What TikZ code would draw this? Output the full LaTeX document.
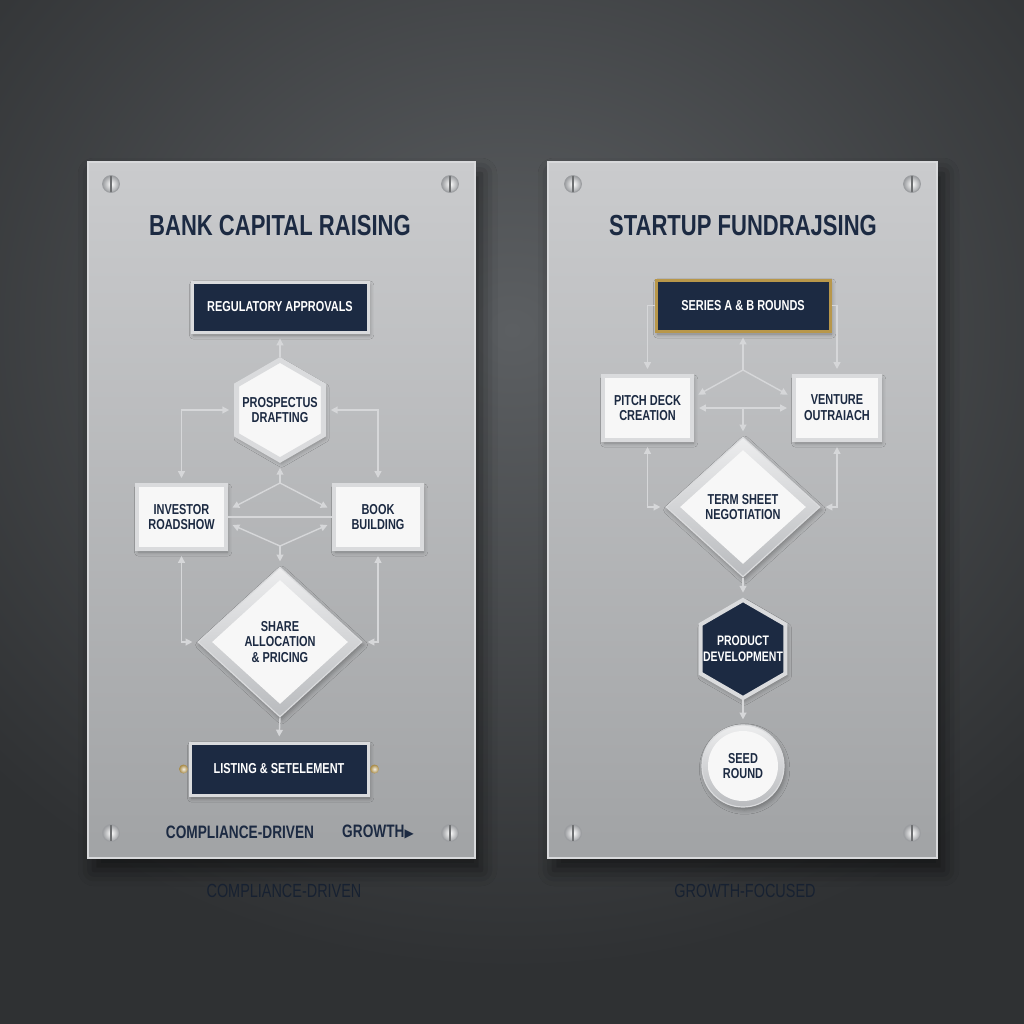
\documentclass[tikz,border=0pt]{standalone}
\usepackage{fontspec}
\setmainfont{Liberation Sans}[FakeStretch=0.76]
\newfontfamily\symfont{DejaVu Sans}
\usetikzlibrary{arrows.meta,shapes.geometric,shadows.blur}

\definecolor{navy}{HTML}{1C2A42}
\definecolor{capnavy}{HTML}{172131}
\definecolor{frame}{HTML}{DADBDD}
\definecolor{frameshade}{HTML}{B9BBBE}
\definecolor{wire}{HTML}{D6D7D9}
\definecolor{paper}{HTML}{F7F7F7}
\definecolor{gold}{HTML}{B8974A}
\definecolor{bglight}{HTML}{5C5F62}
\definecolor{bgdark}{HTML}{2F3133}
\definecolor{platetop}{HTML}{CACBCD}
\definecolor{platebot}{HTML}{A1A3A5}
\definecolor{plateedge}{HTML}{D8D9DB}
\definecolor{screwgray}{HTML}{9C9EA1}

\begin{document}
\begin{tikzpicture}
	[x=0.5pt,y=-0.5pt,>={Triangle[length=3.4pt,width=3.4pt]},
		wire/.style={draw=wire,line width=0.7pt,shorten >=2.5pt},
		box text/.style={font=\bfseries\fontsize{7.2}{7.9}\selectfont,align=center},
		navy node/.style={rectangle,fill=navy,draw=frame,line width=1.5pt,text=white,box text,inner sep=0pt,
			blur shadow={shadow xshift=0.8pt,shadow yshift=-1.5pt,shadow opacity=35}},
		white node/.style={rectangle,fill=paper,draw=frame,line width=2pt,text=navy,box text,inner sep=0pt,
			blur shadow={shadow xshift=0.8pt,shadow yshift=-1.5pt,shadow opacity=30}},
		hex node/.style={regular polygon,regular polygon sides=6,shape border rotate=30,minimum size=50pt,inner sep=0pt,
			blur shadow={shadow xshift=0.8pt,shadow yshift=-1.5pt,shadow opacity=30}},
		diam node/.style={diamond,inner sep=0pt},
		silver node/.style={top color=frame!50!white,bottom color=frameshade,draw=frame,line width=0.6pt,
			blur shadow={shadow xshift=0.8pt,shadow yshift=-1.5pt,shadow opacity=30}},
		screw node/.style={circle,minimum size=8.5pt,inner sep=0pt,draw=screwgray,line width=0.4pt,inner color=white,outer color=screwgray,
			path picture={\draw[screwgray!70!black,line width=0.7pt] (path picture bounding box.north) -- (path picture bounding box.south);}},
		gold dot/.style={circle,minimum size=4.5pt,inner sep=0pt,inner color=gold!15!white,outer color=gold!90!black},
		title node/.style={font=\bfseries\fontsize{14.5}{16}\selectfont,text=navy},
		foot node/.style={font=\bfseries\fontsize{9}{10}\selectfont,text=navy},
		caption node/.style={font=\fontsize{9.5}{10}\selectfont,text=capnavy}]

	% background and plates
	\useasboundingbox (0,0) rectangle (1024,1024);
	\fill[bgdark] (0,0) rectangle (1024,1024);
	\begin{scope}
		\clip (0,0) rectangle (1024,1024);
		\shade[inner color=bglight,outer color=bgdark] (512,330) ellipse [x radius=720,y radius=640];
	\end{scope}
	\shade[top color=platetop,bottom color=platebot,draw=plateedge,line width=1pt,
		blur shadow={shadow xshift=3pt,shadow yshift=-6pt,shadow blur radius=8pt,shadow opacity=55}] (88,162) rectangle (475,858);
	\shade[top color=platetop,bottom color=platebot,draw=plateedge,line width=1pt,
		blur shadow={shadow xshift=3pt,shadow yshift=-6pt,shadow blur radius=8pt,shadow opacity=55}] (548,162) rectangle (937,858);

	\node[screw node] (s1) at (111,184) {};
	\node[screw node] (s2) at (450,184) {};
	\node[screw node] (s3) at (111,833) {};
	\node[screw node] (s4) at (450,833) {};
	\node[screw node] (s5) at (573,184) {};
	\node[screw node] (s6) at (912,184) {};
	\node[screw node] (s7) at (573,833) {};
	\node[screw node] (s8) at (912,833) {};

	% bank side
	\node[title node] (banktitle) at (280,226) {BANK CAPITAL RAISING};
	\node[navy node,minimum width=88pt,minimum height=25pt] (regap) at (280,307) {REGULATORY APPROVALS};
	\node[hex node,fill=paper,draw=frame,line width=2.5pt,
		label={[box text,text=navy]center:PROSPECTUS\\DRAFTING}] (prosp) at (280,410) {};
	\node[white node,minimum width=44.5pt,minimum height=32pt] (roadshow) at (181.5,517) {INVESTOR\\ROADSHOW};
	\node[white node,minimum width=44pt,minimum height=32pt] (book) at (378,517) {BOOK\\BUILDING};
	\node[diam node,silver node,minimum width=82pt,minimum height=75pt] (share) at (280,642) {};
	\node[diam node,fill=paper,box text,text=navy,minimum width=68pt,minimum height=62pt] (sharein) at (280,642) {SHARE\\ALLOCATION\\\& PRICING};
	\node[navy node,minimum width=89pt,minimum height=26pt] (listing) at (279,769) {LISTING \& SETELEMENT};
	\node[gold dot] (goldl) at ([xshift=-2.5pt]listing.west) {};
	\node[gold dot] (goldr) at ([xshift=2.5pt]listing.east) {};
	\node[foot node] (compfoot) at (240,832) {COMPLIANCE-DRIVEN};
	\node[foot node] (growfoot) at (378,832) {GROWTH{\symfont\fontsize{6}{6}\selectfont ▶}};

	\coordinate (j1) at (280,483);
	\coordinate (j2) at (280,546);
	\draw[wire,->] (prosp.north) -- (regap.south);
	\draw[wire,<->,shorten <=2.5pt] (roadshow.north) |- (prosp.west);
	\draw[wire,<->,shorten <=2.5pt] (book.north) |- (prosp.east);
	\draw[wire,->] (j1) -- (prosp.south);
	\draw[wire,->] (j1) -- ([yshift=3.5pt]roadshow.east);
	\draw[wire,->] (j1) -- ([yshift=3.5pt]book.west);
	\draw[wire,shorten >=0pt] (roadshow.east) -- (book.west);
	\draw[wire,->] (j2) -- ([yshift=-3pt]roadshow.east);
	\draw[wire,->] (j2) -- ([yshift=-3pt]book.west);
	\draw[wire,->] (j2) -- (share.north);
	\draw[wire,<->,shorten <=2.5pt] (roadshow.south) |- (share.west);
	\draw[wire,<->,shorten <=2.5pt] (book.south) |- (share.east);
	\draw[wire,->] (share.south) -- (listing.north);

	% startup side
	\node[title node] (starttitle) at (743,226) {STARTUP FUNDRAJSING};
	\node[navy node,draw=gold,minimum width=87pt,minimum height=25.5pt] (series) at (743,305.5) {SERIES A \& B ROUNDS};
	\node[white node,minimum width=44.5pt,minimum height=32pt] (pitch) at (647.5,408) {PITCH DECK\\CREATION};
	\node[white node,minimum width=43pt,minimum height=32pt] (venture) at (837,408) {VENTURE\\OUTRAIACH};
	\node[diam node,silver node,minimum width=77pt,minimum height=70pt] (term) at (743,507) {};
	\node[diam node,fill=paper,box text,text=navy,minimum width=63pt,minimum height=57pt] (termin) at (743,507) {TERM SHEET\\NEGOTIATION};
	\node[hex node,fill=navy,draw=frame,line width=2pt,minimum size=49pt,
		label={[box text,font=\bfseries\fontsize{6.9}{7.9}\selectfont,text=white]center:PRODUCT\\DEVELOPMENT}] (prod) at (743,649) {};
	\node[circle,silver node,minimum size=41pt,inner sep=0pt] (seed) at (743,766) {};
	\node[circle,fill=paper,box text,text=navy,minimum size=35pt,inner sep=0pt] (seedin) at (743,766) {SEED\\ROUND};

	\coordinate (j3) at (743,370);
	\coordinate (j4) at (743,407);
	\draw[wire,->] (series.west) -| (pitch.north);
	\draw[wire,->] (series.east) -| (venture.north);
	\draw[wire,->] (j3) -- (series.south);
	\draw[wire,->] (j3) -- ([yshift=5.5pt]pitch.east);
	\draw[wire,->] (j3) -- ([yshift=5.5pt]venture.west);
	\draw[wire,<->,shorten <=2.5pt] (pitch.east) -- (venture.west);
	\draw[wire,->] (j4) -- (term.north);
	\draw[wire,<->,shorten <=2.5pt] (pitch.south) |- (term.west);
	\draw[wire,<->,shorten <=2.5pt] (venture.south) |- (term.east);
	\draw[wire,->] (term.south) -- (prod.north);
	\draw[wire,->] (prod.south) -- (seed.north);

	% captions under the plates
	\node[caption node] (compcap) at (284,891) {COMPLIANCE-DRIVEN};
	\node[caption node] (growcap) at (745,891) {GROWTH-FOCUSED};

\end{tikzpicture}
\end{document}
